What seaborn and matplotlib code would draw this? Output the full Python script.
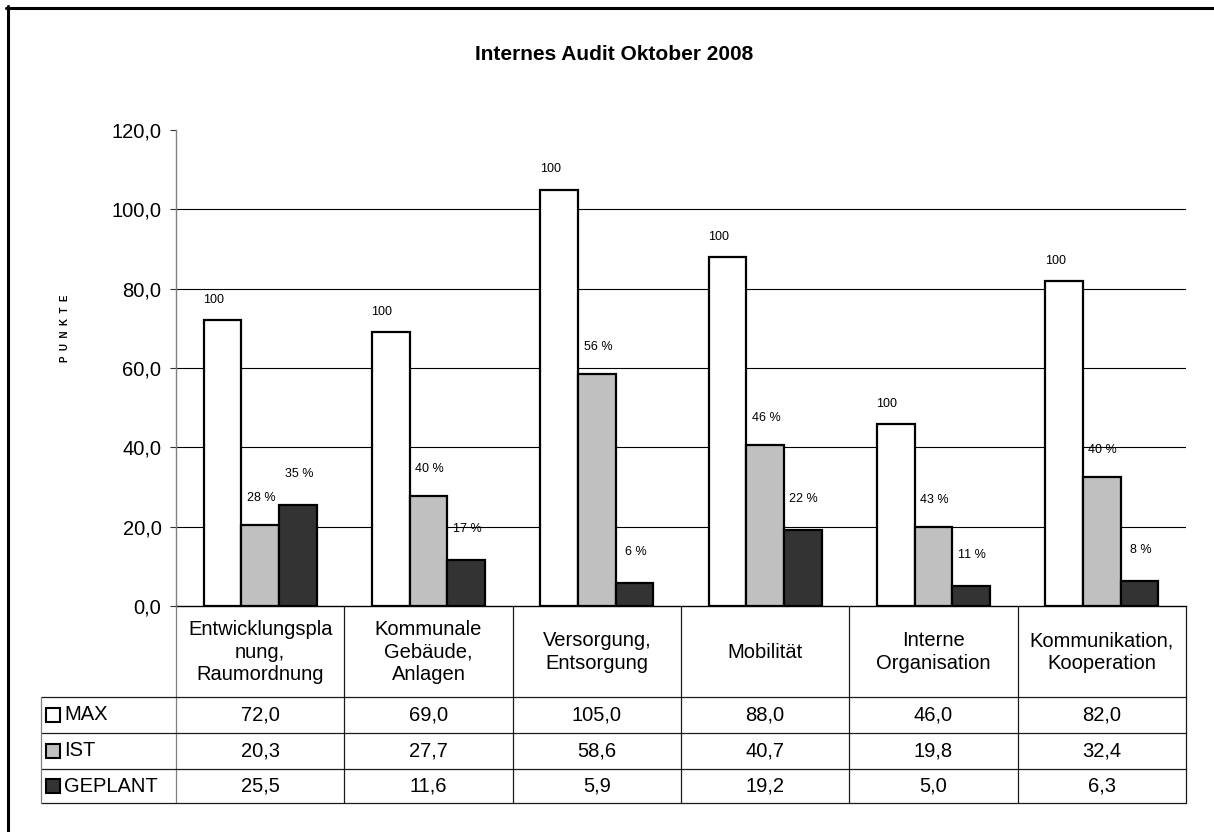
import matplotlib
matplotlib.use("Agg")
import matplotlib.pyplot as plt
import matplotlib.transforms as mtransforms
from matplotlib.patches import Rectangle
from matplotlib.lines import Line2D
from matplotlib.ticker import FuncFormatter, FixedLocator
import seaborn as sns
import pandas as pd

# ---------------- data ----------------
categories = ["Entwicklungspla\nnung,\nRaumordnung", "Kommunale\nGebäude,\nAnlagen",
              "Versorgung,\nEntsorgung", "Mobilität", "Interne\nOrganisation",
              "Kommunikation,\nKooperation"]
series_names = ["MAX", "IST", "GEPLANT"]
max_vals = [72.0, 69.0, 105.0, 88.0, 46.0, 82.0]
ist_vals = [20.3, 27.7, 58.6, 40.7, 19.8, 32.4]
geplant_vals = [25.5, 11.6, 5.9, 19.2, 5.0, 6.3]
y_ticks = [0, 20, 40, 60, 80, 100, 120]
title = "Internes Audit Oktober 2008"
y_label = "P  U  N  K  T  E"

# ---------------- style ----------------
colors = {"MAX": "#FFFFFF", "IST": "#C0C0C0", "GEPLANT": "#333333"}
label_lift_px = {"MAX": 20, "IST": 27, "GEPLANT": 31}
label_shift_px = {"MAX": -9, "IST": 1, "GEPLANT": 1}

sns.set_theme(style="white")
plt.rcParams["font.family"] = ["Liberation Sans", "DejaVu Sans"]
plt.rcParams["text.color"] = "black"

W, H = 1214, 832
fig = plt.figure(figsize=(W / 100, H / 100), dpi=100, facecolor="white")


def fx(px):
    return px / W


def fy(py):
    return 1 - py / H


ax = fig.add_axes([fx(176), fy(606), fx(1186) - fx(176), fy(130) - fy(606)])
ax.set_facecolor("white")

values = {"MAX": max_vals, "IST": ist_vals, "GEPLANT": geplant_vals}
df = pd.DataFrame({
    "Kategorie": categories * 3,
    "Serie": [s for s in series_names for _ in categories],
    "Punkte": max_vals + ist_vals + geplant_vals,
})

for v in y_ticks[1:-1]:
    ax.axhline(v, color="black", lw=0.8, zorder=0.5)

sns.barplot(data=df, x="Kategorie", y="Punkte", hue="Serie", order=categories,
            hue_order=series_names, palette=colors, width=0.67, gap=0,
            edgecolor="black", linewidth=1.6, saturation=1, legend=False,
            errorbar=None, ax=ax, zorder=2)

ax.set_xlim(-0.5, len(categories) - 0.5)
ax.set_ylim(0, 120)
ax.yaxis.set_major_locator(FixedLocator(y_ticks))
ax.yaxis.set_major_formatter(FuncFormatter(lambda v, p: f"{v:.1f}".replace(".", ",")))
ax.tick_params(axis="y", direction="out", length=4, width=0.8, color="#333333",
               labelsize=14.5, pad=6.5, left=True, labelcolor="black")
ax.tick_params(axis="x", bottom=False, labelbottom=False)
ax.set_xlabel("")
ax.set_ylabel(y_label, fontsize=7, fontweight="bold", color="black")
ax.yaxis.set_label_coords((70 - 176) / 1010, (606 - 328) / 476)
ax.grid(False)
for s in ["top", "right"]:
    ax.spines[s].set_visible(False)
ax.spines["left"].set_color("#808080")
ax.spines["left"].set_linewidth(1.0)
ax.spines["bottom"].set_color("black")
ax.spines["bottom"].set_linewidth(1.0)

# data labels
for container, s in zip(ax.containers, series_names):
    for bar, v, m in zip(container, values[s], max_vals):
        txt = "100" if s == "MAX" else f"{round(v / m * 100):d} %"
        x = bar.get_x() + bar.get_width() / 2
        ax.annotate(txt, (x, bar.get_height()), xytext=(label_shift_px[s], label_lift_px[s]),
                    textcoords="offset pixels", ha="center", va="center",
                    fontsize=9, color="black", zorder=5)

# title
fig.text(fx(614), fy(55), title, ha="center", va="center", fontsize=15,
         fontweight="bold", color="black")

# ---------------- data table ----------------
trans = mtransforms.blended_transform_factory(ax.transData, fig.transFigure)
lc = "#1a1a1a"
lw = 0.9
for k in range(len(categories) + 1):
    xk = k - 0.5
    ax.plot([xk, xk], [fy(606), fy(803)], transform=trans, clip_on=False,
            color=("#808080" if k == 0 else lc), lw=lw, zorder=3)
for yrow in [697, 733, 769, 803]:
    fig.add_artist(Line2D([fx(41), fx(1186)], [fy(yrow), fy(yrow)], color=lc, lw=lw))
fig.add_artist(Line2D([fx(41), fx(41)], [fy(697), fy(803)], color="#808080", lw=lw))

for i, cat in enumerate(categories):
    ax.text(i, fy(652), cat, transform=trans, ha="center", va="center",
            fontsize=14.5, linespacing=1.25, multialignment="center", color="black")

row_centers = [715, 751, 786]
for s, rc in zip(series_names, row_centers):
    for i, v in enumerate(values[s]):
        ax.text(i, fy(rc), f"{v:.1f}".replace(".", ","), transform=trans,
                ha="center", va="center", fontsize=14.5, color="black")
    fig.add_artist(Rectangle((fx(46), fy(rc + 7)), fx(14), 14 / H,
                             transform=fig.transFigure, facecolor=colors[s],
                             edgecolor="black", lw=1.5))
    fig.text(fx(64), fy(rc), s, ha="left", va="center", fontsize=14.5, color="black")

# outer frame (left and top edges visible)
fig.add_artist(Line2D([fx(7.5), fx(7.5)], [fy(6), 0], color="black", lw=2.2))
fig.add_artist(Line2D([fx(6), 1], [fy(7.5), fy(7.5)], color="black", lw=2.2))

fig.savefig("out.png", dpi=100, facecolor="white")
